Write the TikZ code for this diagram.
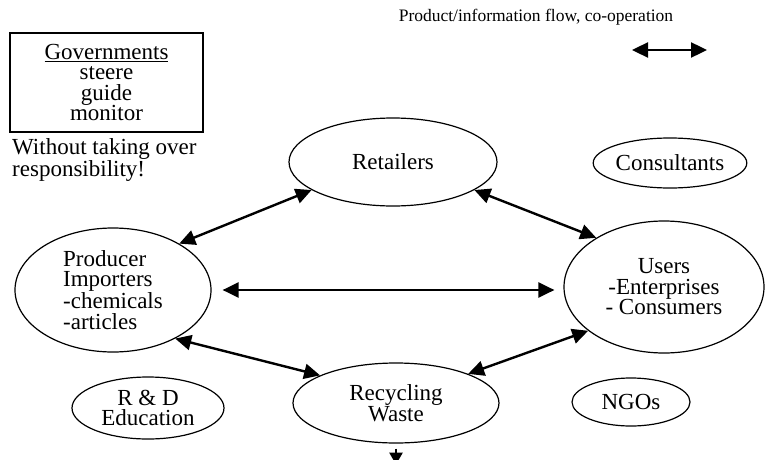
\documentclass[tikz,border=0pt]{standalone}
\usepackage{fontspec}
\setmainfont{Liberation Serif}
\usetikzlibrary{shapes.geometric,arrows.meta}
\begin{document}
\begin{tikzpicture}[x=1pt,y=-1pt,
  txt/.style={font=\fontsize{23}{20.5}\selectfont},
  oval/.style={ellipse,draw,line width=1.2pt,align=center,inner sep=0pt,txt},
  flow/.style={line width=2.4pt,{Triangle[length=16pt,width=15pt]}-{Triangle[length=16pt,width=15pt]}}]
\useasboundingbox (0,0) rectangle (765,460);

% legend
\node[font=\fontsize{17.5}{20}\selectfont,inner sep=0pt] (legtxt) at (536,17) {Product/information flow, co-operation};
\coordinate (la) at (632,50);
\coordinate (lb) at (707,50);
\draw[flow] (la) -- (lb);

% governments
\node[draw,line width=1.5pt,txt,align=center,minimum width=193pt,minimum height=99pt,inner sep=0pt] (gov) at (106.5,82.5)
  {\underline{Governments}\\steere\\guide\\monitor};
\node[txt,align=left,anchor=north west,inner sep=0pt] (resp) at (12,138) {Without taking over\\responsibility!};

% actors
\node[oval,minimum width=208pt,minimum height=88pt] (ret) at (393,162) {Retailers};
\node[oval,minimum width=140pt,minimum height=50pt] (cons) at (670,163) {Consultants};
\node[oval,minimum width=196pt,minimum height=124pt,align=left] (prod) at (113,290) {Producer\\Importers\\-chemicals\\-articles};
\node[oval,minimum width=200pt,minimum height=132pt] (users) at (664,287) {Users\\-Enterprises\\- Consumers};
\node[oval,minimum width=206pt,minimum height=80pt] (recy) at (396,403) {Recycling\\Waste};
\node[oval,minimum width=152pt,minimum height=62pt] (rd) at (148,408) {R \& D\\Education};
\node[oval,minimum width=118pt,minimum height=48pt] (ngo) at (631,402) {NGOs};

% flows
\draw[flow] (prod.35) -- (ret.199);
\draw[flow] (ret.341) -- (users.144);
\draw[flow,shorten <=11pt,shorten >=9pt] (prod.east) -- (prod.east -| users.west);
\draw[flow] (prod.322) -- (recy.160);
\draw[flow] (recy.22) -- (users.210);
\coordinate (out) at ([yshift=-21pt]recy.south);
\draw[line width=2.4pt,-{Triangle[length=12pt,width=13pt]}] ([yshift=-5pt]recy.south) -- (out);
\end{tikzpicture}
\end{document}
